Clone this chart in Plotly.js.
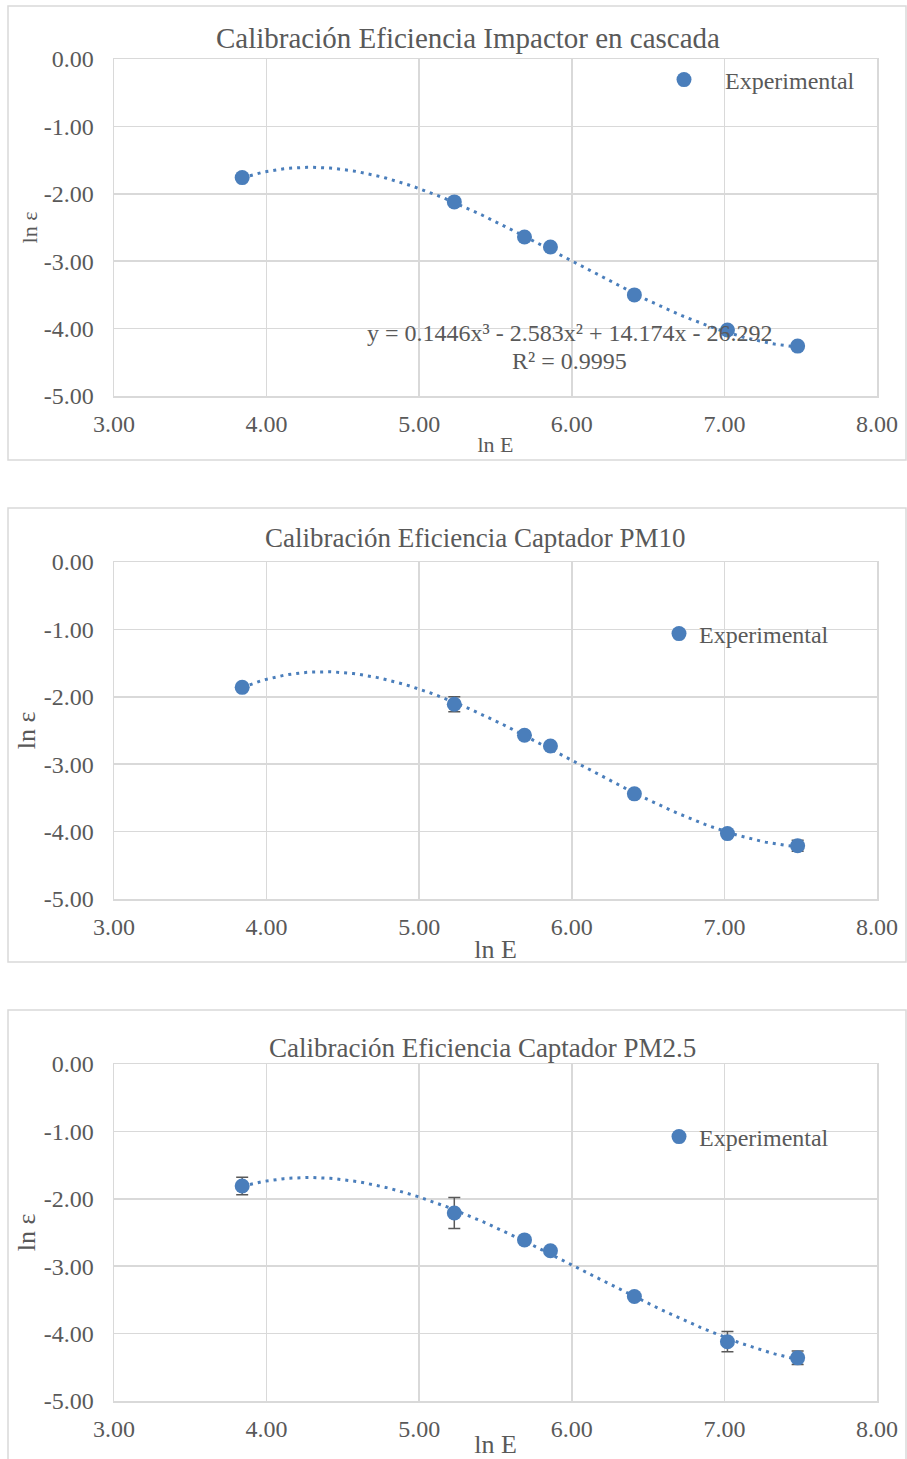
<!DOCTYPE html>
<html>
<head>
<meta charset="utf-8">
<script src="https://cdn.plot.ly/plotly-3.0.1.min.js"></script>
<style>html,body{margin:0;padding:0;background:#fff;}#chart{width:907px;height:1459px;}</style>
</head>
<body>
<div id="chart"></div>
<script>
// ---- Data ----
const titles = [
  "Calibración Eficiencia Impactor en cascada",
  "Calibración Eficiencia Captador PM10",
  "Calibración Eficiencia Captador PM2.5"
];
const seriesName = "Experimental";
const xTitle = "ln E";
const yTitle = "ln ε";

const lnE1 = [3.84, 5.23, 5.69, 5.86, 6.41, 7.02, 7.48];
const lnEff1 = [-1.76, -2.12, -2.64, -2.79, -3.50, -4.02, -4.26];

const lnE2 = [3.84, 5.23, 5.69, 5.86, 6.41, 7.02, 7.48];
const lnEff2 = [-1.86, -2.11, -2.57, -2.73, -3.44, -4.03, -4.21];
const err2 = [0.03, 0.11, 0.03, 0.03, 0.04, 0.04, 0.08];

const lnE3 = [3.84, 5.23, 5.69, 5.86, 6.41, 7.02, 7.48];
const lnEff3 = [-1.81, -2.21, -2.61, -2.77, -3.45, -4.12, -4.36];
const err3 = [0.13, 0.23, 0.03, 0.03, 0.04, 0.15, 0.10];

// Trendline of chart 1 as displayed: y = a3 x^3 + a2 x^2 + a1 x + a0
const coef1 = [-26.292, 14.174, -2.583, 0.1446];
const r2_1 = "0.9995";

const xTickVals = [3, 4, 5, 6, 7, 8];
const xTickText = ["3.00", "4.00", "5.00", "6.00", "7.00", "8.00"];
const yTickVals = [0, -1, -2, -3, -4, -5];
const yTickText = ["0.00", "-1.00", "-2.00", "-3.00", "-4.00", "-5.00"];

// ---- Helpers ----
function cubicFit(xs, ys) {
  const n = 4;
  const A = [], b = [];
  for (let i = 0; i < n; i++) {
    A.push([]);
    for (let j = 0; j < n; j++) A[i].push(xs.reduce((s, x) => s + Math.pow(x, i + j), 0));
    b.push(xs.reduce((s, x, k) => s + Math.pow(x, i) * ys[k], 0));
  }
  for (let c = 0; c < n; c++) {
    let p = c;
    for (let r = c + 1; r < n; r++) if (Math.abs(A[r][c]) > Math.abs(A[p][c])) p = r;
    [A[c], A[p]] = [A[p], A[c]]; [b[c], b[p]] = [b[p], b[c]];
    for (let r = c + 1; r < n; r++) {
      const f = A[r][c] / A[c][c];
      for (let k = c; k < n; k++) A[r][k] -= f * A[c][k];
      b[r] -= f * b[c];
    }
  }
  const sol = new Array(n).fill(0);
  for (let r = n - 1; r >= 0; r--) {
    let s = b[r];
    for (let k = r + 1; k < n; k++) s -= A[r][k] * sol[k];
    sol[r] = s / A[r][r];
  }
  return sol;
}
function trend(coef, xs) {
  const lo = Math.min(...xs), hi = Math.max(...xs);
  const tx = [], ty = [];
  for (let i = 0; i <= 120; i++) {
    const x = lo + (hi - lo) * i / 120;
    tx.push(x);
    ty.push(coef[0] + coef[1] * x + coef[2] * x * x + coef[3] * x * x * x);
  }
  return {x: tx, y: ty};
}

const coef2 = cubicFit(lnE2, lnEff2);
const coef3 = cubicFit(lnE3, lnEff3);

const blue = "#4a7ebb";
const gray = "#595959";
const grid = "#d9d9d9";
const FONT = "Liberation Serif, Times New Roman, serif";
const W = 907, H = 1459;
const px = v => v / W;
const py = v => 1 - v / H;

const t1 = trend(coef1, lnE1), t2 = trend(coef2, lnE2), t3 = trend(coef3, lnE3);
const lineStyle = {color: blue, width: 3, dash: "3px,5px"};
const markerStyle = {color: blue, size: 15};
const errStyle = (arr) => ({type: "data", array: arr, visible: true, color: gray, thickness: 1.5, width: 6});

const data = [
  {x: t1.x, y: t1.y, xaxis: "x", yaxis: "y", mode: "lines", line: lineStyle, showlegend: false, hoverinfo: "skip"},
  {x: lnE1, y: lnEff1, xaxis: "x", yaxis: "y", mode: "markers", marker: markerStyle, name: seriesName, legend: "legend"},
  {x: t2.x, y: t2.y, xaxis: "x2", yaxis: "y2", mode: "lines", line: lineStyle, showlegend: false, hoverinfo: "skip"},
  {x: lnE2, y: lnEff2, xaxis: "x2", yaxis: "y2", mode: "markers", marker: markerStyle, name: seriesName, error_y: errStyle(err2), legend: "legend2"},
  {x: t3.x, y: t3.y, xaxis: "x3", yaxis: "y3", mode: "lines", line: lineStyle, showlegend: false, hoverinfo: "skip"},
  {x: lnE3, y: lnEff3, xaxis: "x3", yaxis: "y3", mode: "markers", marker: markerStyle, name: seriesName, error_y: errStyle(err3), legend: "legend3"}
];

const plotTops = [59, 562, 1064];
const plotBottoms = [396, 899, 1401];
const boxTops = [6, 508, 1010];
const boxBottoms = [460, 962, 1462];

function xAxis(i, anchor, tsize) {
  return {
    domain: [px(114), px(877)], anchor: anchor, range: [3, 8],
    tickvals: xTickVals, ticktext: xTickText, ticks: "", ticklabelstandoff: 6,
    showgrid: true, gridcolor: grid, gridwidth: 1.5, zeroline: false,
    showline: true, mirror: true, linecolor: grid, linewidth: 1.5,
    tickfont: {family: FONT, size: 24, color: gray},
    title: {text: xTitle, font: {family: FONT, size: tsize, color: gray}, standoff: 0},
    fixedrange: true
  };
}
function yAxis(i, anchor, tsize) {
  return {
    domain: [py(plotBottoms[i]), py(plotTops[i])], anchor: anchor, range: [-5, 0],
    tickvals: yTickVals, ticktext: yTickText, ticks: "", ticklabelstandoff: 14,
    showgrid: true, gridcolor: grid, gridwidth: 1.5, zeroline: false,
    showline: true, mirror: true, linecolor: grid, linewidth: 1.5,
    tickfont: {family: FONT, size: 24, color: gray},
    title: {text: yTitle, font: {family: FONT, size: tsize, color: gray}, standoff: 0},
    fixedrange: true
  };
}

const shapes = boxTops.map((t, i) => ({
  type: "rect", xref: "paper", yref: "paper",
  x0: px(8), x1: px(906), y0: py(boxBottoms[i]), y1: py(t),
  line: {color: grid, width: 1.5}, layer: "below"
}));

const eqLine = "y = " + coef1[3] + "x³ - " + Math.abs(coef1[2]) + "x² + " + coef1[1] + "x - " + Math.abs(coef1[0]);
const r2Line = "R² = " + r2_1;

const legendBase = (x, y, iw) => ({
  x: px(x), y: py(y), xanchor: "left", yanchor: "middle",
  bgcolor: "rgba(0,0,0,0)", font: {family: FONT, size: 24, color: gray},
  itemwidth: iw, itemclick: false, itemdoubleclick: false
});

const layout = {
  width: W, height: H,
  margin: {l: 0, r: 0, t: 0, b: 0},
  paper_bgcolor: "#fff", plot_bgcolor: "#fff",
  font: {family: FONT, color: gray},
  title: {text: titles[0], x: px(468), xanchor: "center", y: py(38), yanchor: "middle", font: {family: FONT, size: 29, color: gray}},
  xaxis: xAxis(0, "y", 22), yaxis: yAxis(0, "x", 22),
  xaxis2: xAxis(1, "y2", 26), yaxis2: yAxis(1, "x2", 26),
  xaxis3: xAxis(2, "y3", 26), yaxis3: yAxis(2, "x3", 26),
  legend: legendBase(643, 80, 72),
  legend2: legendBase(659, 634, 30),
  legend3: legendBase(659, 1137, 30),
  shapes: shapes,
  annotations: [
    {text: titles[1], xref: "paper", yref: "paper", x: px(475), y: py(538), xanchor: "center", yanchor: "middle", showarrow: false, font: {family: FONT, size: 27, color: gray}},
    {text: titles[2], xref: "paper", yref: "paper", x: px(483), y: py(1048), xanchor: "center", yanchor: "middle", showarrow: false, font: {family: FONT, size: 27, color: gray}},
    {text: eqLine, xref: "paper", yref: "paper", x: px(569), y: py(333), xanchor: "center", yanchor: "middle", showarrow: false, font: {family: FONT, size: 24, color: gray}},
    {text: r2Line, xref: "paper", yref: "paper", x: px(569), y: py(361), xanchor: "center", yanchor: "middle", showarrow: false, font: {family: FONT, size: 24, color: gray}}
  ]
};

Plotly.newPlot("chart", data, layout, {displayModeBar: false, staticPlot: true});
</script>
</body>
</html>
